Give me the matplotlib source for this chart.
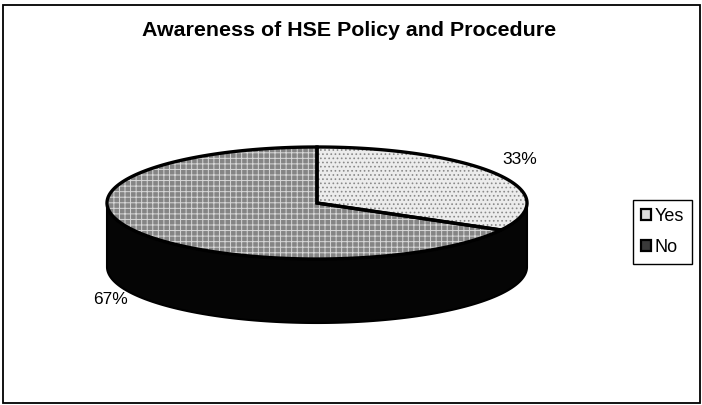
import numpy as np
import matplotlib
matplotlib.use("Agg")
import matplotlib.pyplot as plt
from matplotlib.patches import Polygon, Rectangle, Patch

plt.rcParams['font.family'] = ['Liberation Sans', 'DejaVu Sans']
plt.rcParams['hatch.linewidth'] = 0.7

title = "Awareness of HSE Policy and Procedure"
categories = ["Yes", "No"]
values = [33, 67]
pct_labels = ["33%", "67%"]

face_colors = ["#ececec", "#858585"]
hatch_colors = ["#8a8a8a", "#d8d8d8"]
hatches = ["....", "+++"]
legend_colors = ["#dcdcdc", "#3a3a3a"]
side_color = "#050505"

# pie geometry in pixel units (y grows downward)
cx, cy = 317.0, 203.0
ra, rb = 210.0, 56.0
depth = 64.0

fig = plt.figure(figsize=(7.02, 4.05), dpi=100)
ax = fig.add_axes([0, 0, 1, 1])
ax.set_xlim(0, 702)
ax.set_ylim(405, 0)
ax.axis("off")


def rim(t0, t1, yoff=0.0, n=200):
    t = np.radians(np.linspace(t0, t1, n))
    return np.column_stack([cx + ra * np.cos(t), cy + yoff - rb * np.sin(t)])


# visible side wall: front half of the cylinder
front_top = rim(180, 360)
front_bot = rim(360, 180, yoff=depth)
side = Polygon(np.vstack([front_top, front_bot]), closed=True,
               facecolor=side_color, edgecolor="black", lw=1.5, zorder=1)
ax.add_patch(side)

# top face slices, clockwise from 12 o'clock
total = float(sum(values))
start = 90.0
for i, v in enumerate(values):
    sweep = 360.0 * v / total
    end = start - sweep
    pts = np.vstack([[cx, cy], rim(start, end)])
    ax.add_patch(Polygon(pts, closed=True, facecolor=face_colors[i],
                         edgecolor=hatch_colors[i], hatch=hatches[i],
                         lw=0, zorder=2))
    ax.add_patch(Polygon(pts, closed=True, fill=False, edgecolor="black",
                         lw=2.4, zorder=3))
    start = end

# percentage labels outside the rim
label_pos = [(520, 159), (110, 300)]
for i, lab in enumerate(pct_labels):
    ax.text(label_pos[i][0], label_pos[i][1], lab, fontsize=12.5,
            ha="center", va="center", color="black", zorder=4)

ax.text(349, 31, title, fontsize=15.4, fontweight="bold",
        ha="center", va="center", color="black")

# legend
handles = [Patch(facecolor=legend_colors[i], edgecolor="black", lw=1.6,
                 label=categories[i]) for i in range(len(categories))]
leg = ax.legend(handles=handles, loc="upper left",
                bbox_to_anchor=(633, 200), bbox_transform=ax.transData,
                borderaxespad=0, fancybox=False, framealpha=1,
                edgecolor="black", fontsize=13, handlelength=0.55,
                handleheight=0.55, handletextpad=0.2, labelspacing=0.75,
                borderpad=0.45)
leg.get_frame().set_linewidth(1.0)

# outer chart border
ax.add_patch(Rectangle((2.5, 4.5), 697.5, 398, fill=False,
                       edgecolor="black", lw=1.3, zorder=5))

fig.savefig("out.png", dpi=100)
